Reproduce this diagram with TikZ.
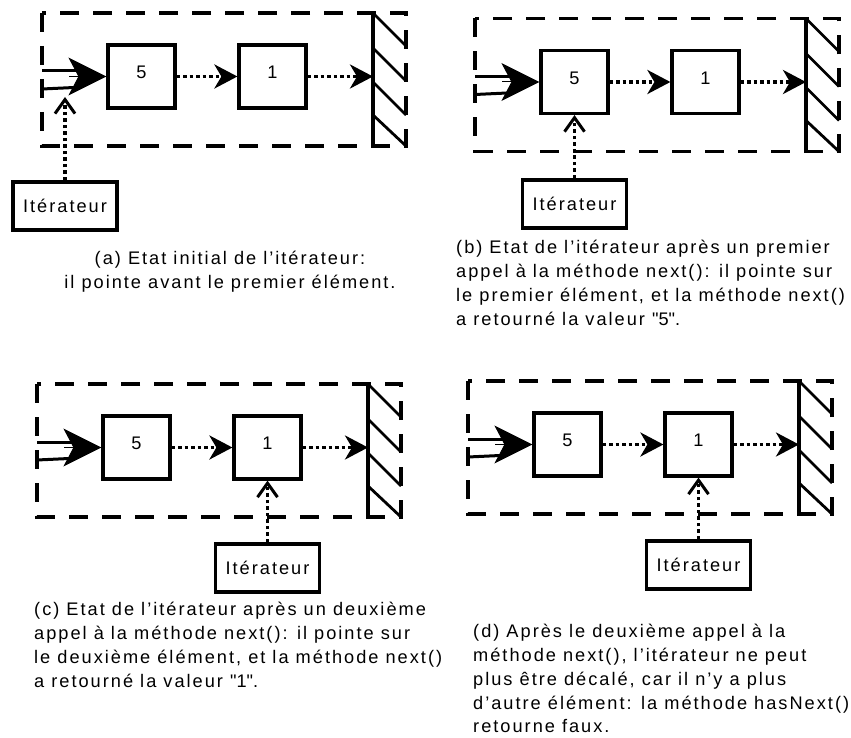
\documentclass[tikz,border=0pt]{standalone}
\usepackage{fontspec}
\setmainfont{Liberation Sans}[LetterSpace=11]
\usetikzlibrary{arrows.meta}

\tikzset{
  txt/.style={font=\fontsize{18.2}{23.8}\selectfont},
  elem/.style={txt,draw,line width=3.2pt,minimum width=67pt,minimum height=63pt,inner sep=0pt,text depth=8pt},
  iterbox/.style={txt,draw,line width=3.2pt,minimum width=104pt,minimum height=48pt,inner sep=0pt},
  frame/.style={line width=3.2pt,dash pattern=on 19pt off 14pt},
  wall/.style={line width=4.6pt},
  hatch/.style={line width=2.8pt},
  shaft/.style={line width=3pt},
  entry/.style={line width=1pt,-{Stealth[length=38pt,width=38pt,inset=10pt]}},
  link/.style={line width=3.5pt,dash pattern=on 3.5pt off 3pt,-{Stealth[length=23pt,width=24pt,inset=7pt]}},
  look/.style={line width=3.5pt,dash pattern=on 3.5pt off 3pt,-{Straight Barb[length=14pt,width=20pt,line width=3pt]}},
  caption/.style={txt,inner sep=0pt}
}

\begin{document}
\begin{tikzpicture}[x=1pt,y=-1pt]
\useasboundingbox (0,0) rectangle (851,738);

% (a) initial state
\begin{scope}[]
\draw[frame] (42,13) rectangle (406,146);
\draw[wall] (373,13) -- (373,146);
\draw[hatch] (373,13) -- (406,46);
\draw[hatch] (373,48) -- (406,81);
\draw[hatch] (373,82) -- (406,115);
\draw[hatch] (373,115) -- (406,146);
\node[elem] (a5) at (141.5,76.5) {5};
\node[elem] (a1) at (272.5,76.5) {1};
\coordinate (aend) at (373,76.5);
\coordinate (ain) at (69,76.5);
\draw[shaft] (42,71) -- (77,71);
\draw[shaft] (42,89) -- (74,87.5);
\draw[entry] (ain) -- (a5);
\draw[link] (a5) -- (a1);
\draw[link] (a1) -- (aend);
\node[iterbox] (aIt) at (65,206) {Itérateur};
\coordinate (alook) at (65,97);
\draw[look] (aIt) -- (alook);
\end{scope}

% (b) after first next()
\begin{scope}[shift={(433,5.5)}]
\draw[frame] (42,13) rectangle (406,146);
\draw[wall] (373,13) -- (373,146);
\draw[hatch] (373,13) -- (406,46);
\draw[hatch] (373,48) -- (406,81);
\draw[hatch] (373,82) -- (406,115);
\draw[hatch] (373,115) -- (406,146);
\node[elem] (b5) at (141.5,76.5) {5};
\node[elem] (b1) at (272.5,76.5) {1};
\coordinate (bend) at (373,76.5);
\coordinate (bin) at (69,76.5);
\draw[shaft] (42,71) -- (77,71);
\draw[shaft] (42,89) -- (74,87.5);
\draw[entry] (bin) -- (b5);
\draw[link] (b5) -- (b1);
\draw[link] (b1) -- (bend);
\node[iterbox] (bIt) at (141.5,198.5) {Itérateur};
\draw[look] (bIt) -- (b5);
\end{scope}

% (c) after second next()
\begin{scope}[shift={(-5,371)}]
\draw[frame] (42,13) rectangle (406,146);
\draw[wall] (373,13) -- (373,146);
\draw[hatch] (373,13) -- (406,46);
\draw[hatch] (373,48) -- (406,81);
\draw[hatch] (373,82) -- (406,115);
\draw[hatch] (373,115) -- (406,146);
\node[elem] (c5) at (141.5,76.5) {5};
\node[elem] (c1) at (272.5,76.5) {1};
\coordinate (cend) at (373,76.5);
\coordinate (cin) at (69,76.5);
\draw[shaft] (42,71) -- (77,71);
\draw[shaft] (42,89) -- (74,87.5);
\draw[entry] (cin) -- (c5);
\draw[link] (c5) -- (c1);
\draw[link] (c1) -- (cend);
\node[iterbox] (cIt) at (272.5,197) {Itérateur};
\draw[look] (cIt) -- (c1);
\end{scope}

% (d) no next element
\begin{scope}[shift={(426,368)}]
\draw[frame] (42,13) rectangle (406,146);
\draw[wall] (373,13) -- (373,146);
\draw[hatch] (373,13) -- (406,46);
\draw[hatch] (373,48) -- (406,81);
\draw[hatch] (373,82) -- (406,115);
\draw[hatch] (373,115) -- (406,146);
\node[elem] (d5) at (141.5,76.5) {5};
\node[elem] (d1) at (272.5,76.5) {1};
\coordinate (dend) at (373,76.5);
\coordinate (din) at (69,76.5);
\draw[shaft] (42,71) -- (77,71);
\draw[shaft] (42,89) -- (74,87.5);
\draw[entry] (din) -- (d5);
\draw[link] (d5) -- (d1);
\draw[link] (d1) -- (dend);
\node[iterbox] (dIt) at (272.5,197) {Itérateur};
\draw[look] (dIt) -- (d1);
\end{scope}

% captions
\node[caption,align=center,anchor=north] (acap) at (230,251) {(a) Etat initial de l’itérateur:\\il pointe avant le premier élément.};
\node[caption,align=left,anchor=north west] (bcap) at (456,240) {(b) Etat de l’itérateur après un premier\\appel à la méthode next(): il pointe sur\\le premier élément, et la méthode next()\\a retourné la valeur \textquotedbl5\textquotedbl.};
\node[caption,align=left,anchor=north west] (ccap) at (34,602) {(c) Etat de l’itérateur après un deuxième\\appel à la méthode next(): il pointe sur\\le deuxième élément, et la méthode next()\\a retourné la valeur \textquotedbl1\textquotedbl.};
\node[caption,align=left,anchor=north west] (dcap) at (473,624) {(d) Après le deuxième appel à la\\méthode next(), l’itérateur ne peut\\plus être décalé, car il n’y a plus\\d’autre élément: la méthode hasNext()\\retourne faux.};
\end{tikzpicture}
\end{document}
